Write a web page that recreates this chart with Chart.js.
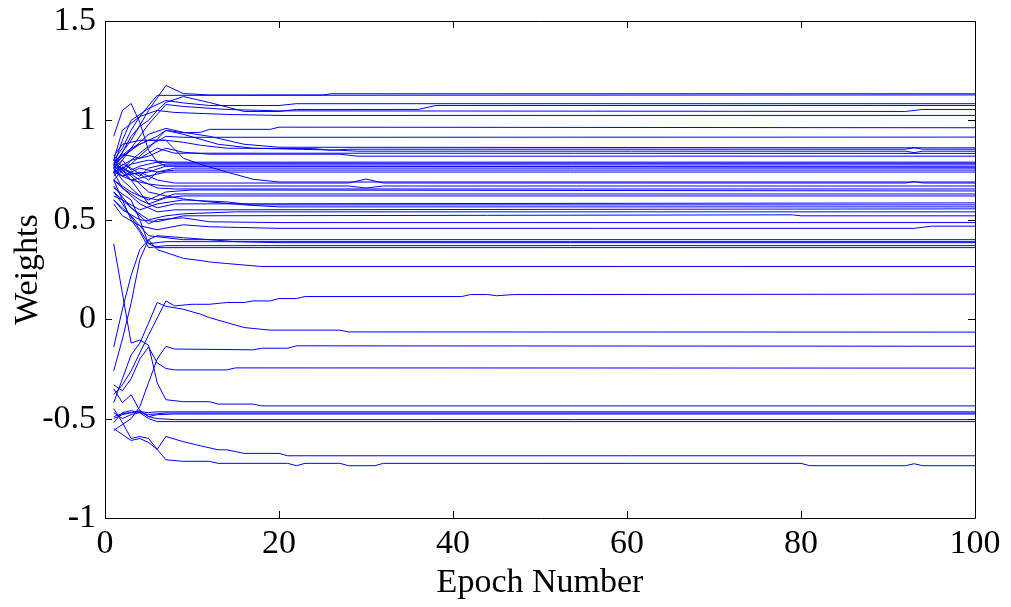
<!DOCTYPE html>
<html>
<head>
<meta charset="utf-8">
<script src="https://cdn.jsdelivr.net/npm/chart.js@4.4.1/dist/chart.umd.min.js"></script>
<style>
html,body{margin:0;padding:0;background:#fff;}
#wrap{width:1011px;height:607px;position:relative;}
</style>
</head>
<body>
<div id="wrap"><canvas id="c" width="1011" height="607"></canvas></div>
<script>
// ---- axis ticks ----
const xTicks = [0, 20, 40, 60, 80, 100];
const yTicks = [-1, -0.5, 0, 0.5, 1, 1.5];
const yTickLabels = ['-1', '-0.5', '0', '0.5', '1', '1.5'];
const xTitle = 'Epoch Number';
const yTitle = 'Weights';

// ---- weight trajectories: [epoch, weight] ----
const w01 = [[1,0.78],[3,0.9],[5,1.05],[7,1.176],[9,1.135],[12,1.128],[25,1.128],[26,1.134],[100,1.134]];
const w02 = [[1,0.8],[2,0.86],[3,0.95],[4,1.02],[6,1.126],[100,1.128]];
const w03 = [[1,0.77],[2,0.9],[3,1.0],[5,1.06],[7,1.10],[9,1.088],[12,1.075],[20,1.075],[22,1.084],[100,1.084]];
const w04 = [[1,0.76],[2,0.84],[3,0.92],[4,0.97],[5,1.0],[6,1.05],[7,1.09],[9,1.12],[12,1.09],[16,1.045],[20,1.045],[22,1.055],[36,1.055],[38,1.075],[100,1.075]];
const w05 = [[1,0.74],[3,0.86],[5,0.98],[7,1.08],[9,1.07],[14,1.055],[20,1.048],[92,1.045],[94,1.055],[100,1.055]];
const w06 = [[1,0.8],[2,0.95],[4,1.02],[6,1.05],[8,1.04],[14,1.03],[20,1.025],[100,1.025]];
const w07 = [[1,0.76],[2,0.82],[4,0.88],[6,0.92],[7,0.95],[9,0.938],[11,0.94],[12,0.955],[19,0.955],[20,0.966],[100,0.963]];
const w08 = [[1,0.7],[3,0.8],[5,0.87],[7,0.92],[9,0.915],[100,0.916]];
const w09 = [[1,0.78],[3,0.85],[5,0.93],[7,0.96],[9,0.94],[12,0.92],[16,0.88],[20,0.865],[100,0.862]];
const w10 = [[1,0.82],[2,0.88],[4,0.9],[7,0.9],[9,0.89],[11,0.875],[14,0.86],[24,0.858],[26,0.85],[28,0.855],[92,0.855],[93,0.862],[94,0.855],[100,0.855]];
const w11 = [[1,0.74],[3,0.78],[5,0.86],[7,0.95],[9,0.93],[13,0.88],[17,0.86],[27,0.85],[29,0.845],[92,0.845],[93,0.838],[94,0.845],[100,0.845]];
const w12 = [[1,0.79],[2,0.83],[4,0.81],[6,0.86],[8,0.835],[100,0.834]];
const w13 = [[1,0.75],[3,0.8],[5,0.82],[7,0.86],[9,0.84],[12,0.83],[27,0.83],[29,0.82],[100,0.82]];
const w14 = [[1,0.77],[2,0.74],[3,0.78],[5,0.8],[7,0.79],[100,0.79]];
const w15 = [[1,0.76],[2,0.8],[3,0.75],[4,0.77],[6,0.79],[8,0.785],[100,0.785]];
const w16 = [[1,0.78],[2,0.76],[4,0.72],[5,0.76],[7,0.78],[100,0.78]];
const w17 = [[1,0.8],[2,0.77],[3,0.73],[5,0.74],[7,0.77],[100,0.77]];
const w18 = [[1,0.73],[2,0.78],[3,0.76],[5,0.7],[6,0.74],[8,0.76],[100,0.76]];
const w19 = [[1,0.75],[2,0.72],[4,0.76],[6,0.74],[8,0.75],[100,0.75]];
const w20 = [[1,0.77],[3,0.7],[5,0.72],[7,0.74],[100,0.74]];
const w21 = [[1,0.79],[3,0.86],[5,0.9],[7,0.9],[9,0.81],[11,0.779],[14,0.74],[17,0.704],[20,0.69],[100,0.69]];
const w22 = [[1,0.76],[2,0.72],[4,0.74],[6,0.70],[8,0.685],[28,0.685],[30,0.705],[32,0.685],[92,0.685],[93,0.692],[94,0.685],[100,0.685]];
const w23 = [[1,0.74],[3,0.7],[5,0.68],[7,0.67],[28,0.67],[30,0.66],[32,0.67],[100,0.67]];
const w24 = [[1,0.72],[2,0.76],[4,0.7],[6,0.66],[8,0.655],[100,0.655]];
const w25 = [[1,0.7],[3,0.64],[5,0.6],[7,0.64],[10,0.65],[100,0.645]];
const w26 = [[1,0.76],[2,0.7],[4,0.62],[6,0.6],[8,0.63],[100,0.63]];
const w27 = [[1,0.8],[3,0.7],[5,0.58],[7,0.61],[9,0.62],[100,0.62]];
const w28 = [[1,0.7],[2,0.66],[4,0.6],[6,0.56],[8,0.58],[100,0.585]];
const w29 = [[1,0.62],[2,0.6],[4,0.55],[6,0.58],[9,0.6],[14,0.59],[17,0.575],[100,0.575]];
const w30 = [[1,0.78],[3,0.72],[5,0.64],[7,0.62],[9,0.605],[12,0.59],[16,0.575],[20,0.565],[100,0.565]];
const w31 = [[1,0.74],[2,0.66],[4,0.58],[6,0.54],[8,0.55],[100,0.555]];
const w32 = [[1,0.64],[3,0.56],[5,0.5],[7,0.52],[9,0.53],[15,0.54],[100,0.54]];
const w33 = [[1,0.6],[2,0.55],[4,0.5],[6,0.49],[9,0.52],[79,0.525],[80,0.52],[100,0.52]];
const w34 = [[1,0.67],[3,0.56],[5,0.48],[6,0.5],[9,0.51],[12,0.49],[20,0.486],[100,0.486]];
const w35 = [[1,0.58],[2,0.52],[4,0.47],[6,0.45],[9,0.475],[12,0.465],[20,0.457],[93,0.457],[95,0.468],[100,0.468]];
const w36 = [[1,0.6],[3,0.52],[5,0.42],[7,0.41],[9,0.40],[100,0.40]];
const w37 = [[1,0.64],[2,0.58],[4,0.45],[5,0.38],[7,0.39],[100,0.39]];
const w38 = [[1,-0.26],[2,-0.1],[3,0.08],[4,0.3],[5,0.4],[6,0.42],[9,0.41],[15,0.39],[20,0.385],[100,0.385]];
const w39 = [[1,0.7],[2,0.6],[3,0.5],[4,0.44],[5,0.36],[7,0.37],[100,0.37]];
const w40 = [[1,-0.14],[2,0.05],[3,0.22],[4,0.35],[5,0.40],[6,0.35],[9,0.306],[11,0.295],[12,0.288],[14,0.28],[18,0.265],[100,0.265]];
const w41 = [[1,0.66],[3,0.6],[4,0.5],[5,0.38],[6,0.36],[100,0.36]];
const w42 = [[1,0.92],[2,1.05],[3,1.085],[4,0.99],[5,0.85],[6,0.79],[7,0.77],[100,0.765]];
const w43 = [[1,0.38],[3,-0.12],[4,-0.105],[5,-0.13],[6,-0.32],[7,-0.405],[9,-0.415],[12,-0.415],[13,-0.427],[17,-0.427],[18,-0.436],[100,-0.436]];
const w44 = [[1,-0.38],[2,-0.33],[3,-0.26],[5,-0.08],[7,0.092],[8,0.067],[10,0.075],[12,0.075],[14,0.084],[16,0.084],[17,0.092],[19,0.092],[20,0.104],[22,0.104],[23,0.114],[41,0.114],[42,0.124],[44,0.124],[45,0.118],[47,0.124],[100,0.126]];
const w45 = [[1,-0.42],[2,-0.30],[3,-0.18],[4,-0.12],[5,-0.02],[6,0.084],[7,0.065],[9,0.05],[11,0.025],[12,0.008],[16,-0.042],[19,-0.055],[27,-0.055],[28,-0.064],[100,-0.065]];
const w46 = [[1,-0.56],[2,-0.53],[3,-0.5],[4,-0.44],[5,-0.32],[6,-0.2],[7,-0.137],[8,-0.15],[17,-0.154],[18,-0.146],[21,-0.146],[22,-0.134],[100,-0.136]];
const w47 = [[1,-0.33],[2,-0.36],[3,-0.30],[4,-0.2],[5,-0.14],[6,-0.22],[7,-0.248],[8,-0.255],[14,-0.255],[15,-0.245],[100,-0.246]];
const w48 = [[1,-0.49],[2,-0.475],[3,-0.47],[4,-0.465],[5,-0.47],[6,-0.466],[100,-0.466]];
const w49 = [[1,-0.47],[2,-0.50],[3,-0.48],[4,-0.47],[5,-0.48],[7,-0.472],[100,-0.472]];
const w50 = [[1,-0.35],[2,-0.42],[3,-0.38],[4,-0.46],[5,-0.49],[6,-0.48],[8,-0.477],[100,-0.477]];
const w51 = [[1,-0.5],[2,-0.48],[3,-0.47],[4,-0.46],[5,-0.49],[6,-0.50],[8,-0.505],[100,-0.505]];
const w52 = [[1,-0.52],[2,-0.47],[3,-0.46],[4,-0.47],[5,-0.5],[6,-0.515],[8,-0.515],[100,-0.515]];
const w53 = [[1,-0.55],[2,-0.58],[3,-0.61],[4,-0.6],[5,-0.62],[6,-0.655],[7,-0.59],[9,-0.616],[11,-0.637],[13,-0.657],[14,-0.657],[16,-0.675],[20,-0.675],[21,-0.687],[100,-0.687]];
const w54 = [[1,-0.45],[2,-0.52],[3,-0.6],[4,-0.59],[5,-0.6],[6,-0.655],[7,-0.707],[9,-0.715],[12,-0.715],[13,-0.725],[21,-0.725],[22,-0.737],[23,-0.725],[27,-0.725],[28,-0.737],[31,-0.737],[32,-0.725],[80,-0.725],[81,-0.737],[92,-0.737],[93,-0.727],[94,-0.737],[100,-0.737]];

const allWeights = [w01,w02,w03,w04,w05,w06,w07,w08,w09,w10,w11,w12,w13,w14,w15,w16,w17,w18,w19,w20,
  w21,w22,w23,w24,w25,w26,w27,w28,w29,w30,w31,w32,w33,w34,w35,w36,w37,w38,w39,w40,w41,w42,
  w43,w44,w45,w46,w47,w48,w49,w50,w51,w52,w53,w54];

const datasets = allWeights.map((s, i) => ({
  label: 'w' + (i + 1),
  data: s.map(p => ({x: p[0], y: p[1]})),
  borderColor: '#0000ff',
  borderWidth: 1,
  pointRadius: 0,
  tension: 0,
  fill: false
}));

const FONT = 'Liberation Serif, Times New Roman, serif';
const FSIZE = 34;

const boxTicks = {
  id: 'boxTicks',
  afterDraw(chart) {
    const {ctx, chartArea: a, scales: {x, y}} = chart;
    const L = 7;
    ctx.save();
    ctx.strokeStyle = '#000';
    ctx.lineWidth = 1;
    ctx.beginPath();
    ctx.rect(Math.round(a.left) + 0.5, Math.round(a.top) + 0.5, Math.round(a.right - a.left), Math.round(a.bottom - a.top));
    xTicks.forEach(v => {
      const px = Math.round(x.getPixelForValue(v)) + 0.5;
      ctx.moveTo(px, a.bottom); ctx.lineTo(px, a.bottom - L);
      ctx.moveTo(px, a.top); ctx.lineTo(px, a.top + L);
    });
    yTicks.forEach(v => {
      const py = Math.round(y.getPixelForValue(v)) + 0.5;
      ctx.moveTo(a.left, py); ctx.lineTo(a.left + L, py);
      ctx.moveTo(a.right, py); ctx.lineTo(a.right - L, py);
    });
    ctx.stroke();
    ctx.restore();
  }
};

new Chart(document.getElementById('c'), {
  type: 'line',
  data: {datasets},
  options: {
    responsive: false,
    animation: false,
    events: [],
    layout: {padding: {top: 21, right: 36, left: 0, bottom: 0}},
    plugins: {legend: {display: false}, tooltip: {enabled: false}},
    scales: {
      x: {
        type: 'linear', min: 0, max: 100,
        afterBuildTicks: s => { s.ticks = xTicks.map(v => ({value: v})); },
        afterFit: s => { s.height = 89; s.paddingLeft = 0; s.paddingRight = 0; },
        grid: {display: false, drawTicks: false},
        border: {display: false},
        ticks: {color: '#000', font: {family: FONT, size: FSIZE}, padding: 6, maxRotation: 0, autoSkip: false,
                callback: v => String(v)},
        title: {display: true, text: xTitle, color: '#000', font: {family: FONT, size: FSIZE}, padding: {top: 0, bottom: 4}}
      },
      y: {
        type: 'linear', min: -1, max: 1.5,
        afterBuildTicks: s => { s.ticks = yTicks.map(v => ({value: v})); },
        afterFit: s => { s.width = 105; s.paddingTop = 0; s.paddingBottom = 0; },
        grid: {display: false, drawTicks: false},
        border: {display: false},
        ticks: {color: '#000', font: {family: FONT, size: FSIZE}, padding: 9, autoSkip: false,
                callback: v => yTickLabels[yTicks.indexOf(v)] ?? ''},
        title: {display: true, text: yTitle, color: '#000', font: {family: FONT, size: FSIZE}, padding: {top: 8, bottom: 0}}
      }
    }
  },
  plugins: [boxTicks]
});
</script>
</body>
</html>
